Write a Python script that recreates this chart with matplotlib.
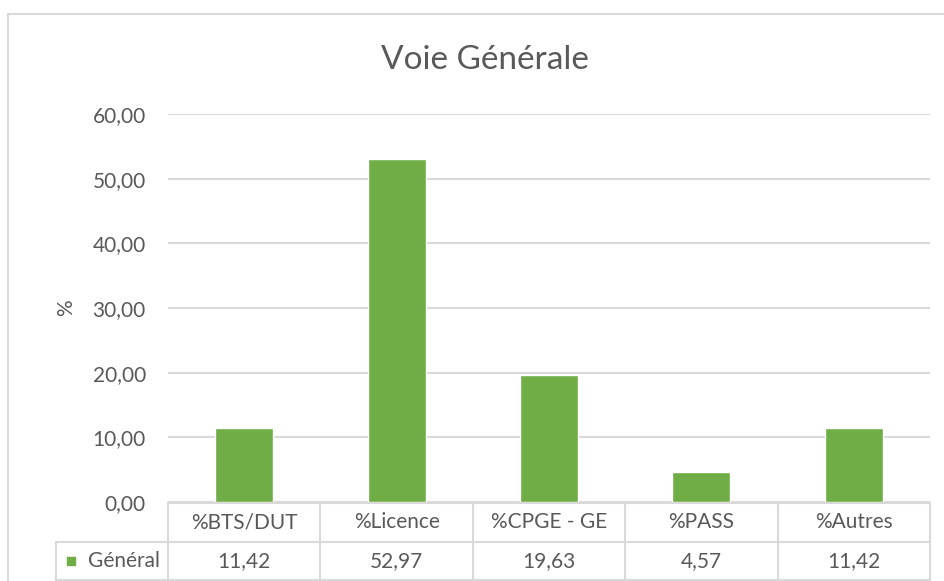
import matplotlib.pyplot as plt
from matplotlib.patches import Rectangle

categories = ['%BTS/DUT', '%Licence', '%CPGE - GE', '%PASS', '%Autres']
general = [11.42, 52.97, 19.63, 4.57, 11.42]
value_labels = ['11,42', '52,97', '19,63', '4,57', '11,42']
series_name = 'Général'
yticks = [0, 10, 20, 30, 40, 50, 60]

W, H = 945, 581
green = '#70AD47'
grey_txt = '#595959'
grid_c = '#D9D9D9'

plt.rcParams['font.family'] = ['Lato', 'DejaVu Sans']

fig = plt.figure(figsize=(W / 100, H / 100), dpi=100)

# chart border
fig.patches.append(Rectangle((8 / W, -0.01), 1.0, 1 - 14 / H + 0.01, transform=fig.transFigure,
                             fill=False, edgecolor=grid_c, lw=1.5))

x0, x1 = 168, 930
ytop, ybot = 114, 502
ax = fig.add_axes([x0 / W, 1 - ybot / H, (x1 - x0) / W, (ybot - ytop) / H])
ax.bar(range(len(categories)), general, width=0.38, color=green, edgecolor='white', lw=1, zorder=3)
ax.set_xlim(-0.5, len(categories) - 0.5)
ax.set_ylim(0, 60)
ax.set_yticks(yticks)
ax.set_yticklabels(['%d,00' % v for v in yticks], fontsize=15, color=grey_txt)
ax.yaxis.grid(True, color=grid_c, lw=1.5, zorder=0)
ax.tick_params(axis='y', length=0, pad=16)
ax.set_xticks([])
for s in ax.spines.values():
    s.set_visible(False)
ax.set_ylabel('%', fontsize=15, color=grey_txt, labelpad=12)

fig.text(485 / W, 1 - 60 / H, 'Voie Générale', ha='center', va='center', fontsize=24, color=grey_txt)

# data table
tab = fig.add_axes([x0 / W, 1 - 580 / H, (x1 - x0) / W, (580 - 503) / H])
tab.set_xlim(-0.5, len(categories) - 0.5)
tab.set_ylim(0, 2)
tab.axis('off')
cw = (x1 - x0) / len(categories)
left = -0.5 - (x0 - 56) / cw
lk = dict(color=grid_c, lw=1.5, clip_on=False)
tab.plot([-0.5, len(categories) - 0.5], [2, 2], **lk)
tab.plot([left, len(categories) - 0.5], [1, 1], **lk)
tab.plot([left, len(categories) - 0.5], [0, 0], **lk)
tab.plot([left, left], [0, 1], **lk)
for i in range(len(categories) + 1):
    tab.plot([i - 0.5, i - 0.5], [0, 2], **lk)
for i, (c, v) in enumerate(zip(categories, value_labels)):
    tab.text(i, 1.5, c, ha='center', va='center', fontsize=15, color=grey_txt)
    tab.text(i, 0.5, v, ha='center', va='center', fontsize=15, color=grey_txt)
mid = (left - 0.5) / 2
tab.text(mid + 0.08, 0.5, series_name, ha='center', va='center', fontsize=15, color=grey_txt)
tab.scatter([left + 0.1], [0.5], marker='s', s=30, color=green, clip_on=False)

fig.savefig('out.png', dpi=100)
